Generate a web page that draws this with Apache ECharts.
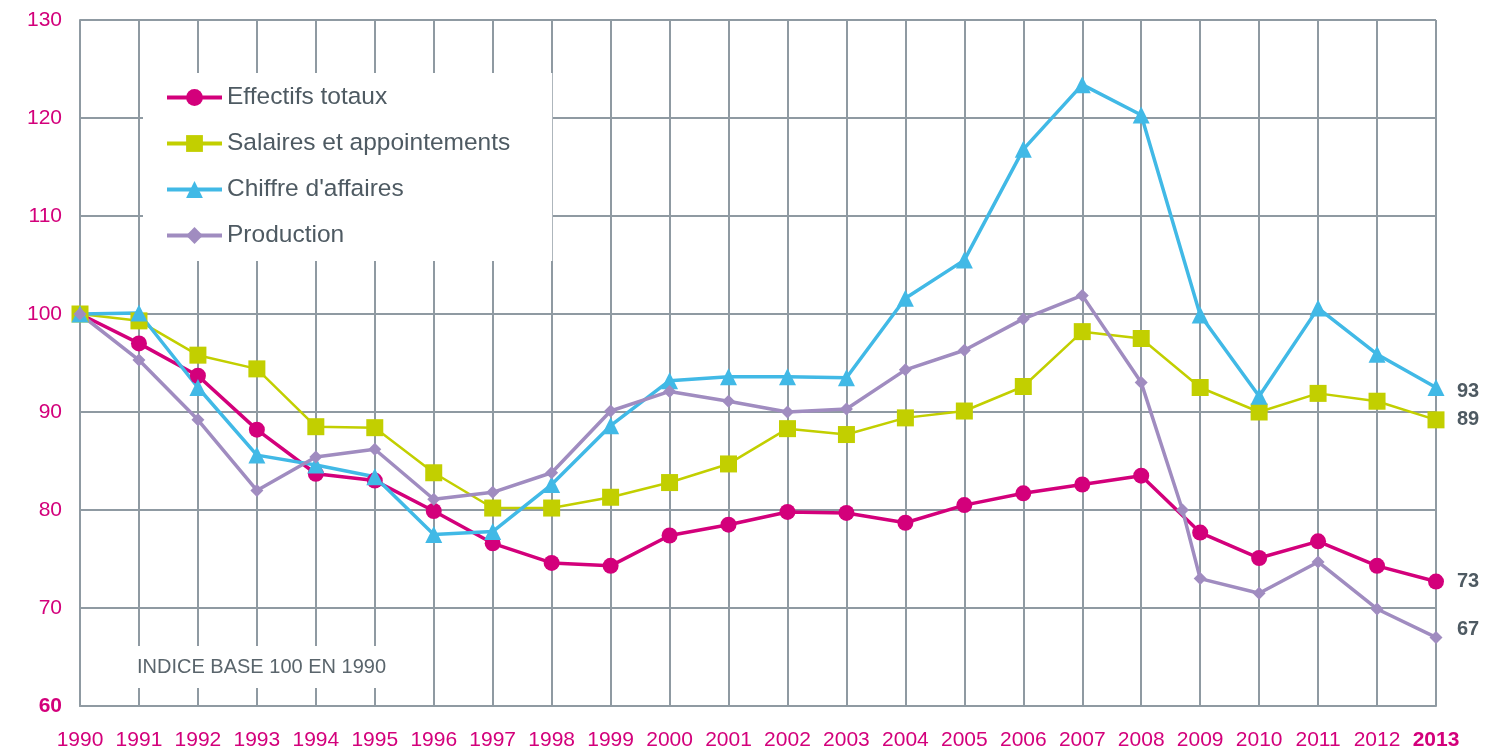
<!DOCTYPE html>
<html><head><meta charset="utf-8">
<script src="https://cdn.jsdelivr.net/npm/echarts@6/dist/echarts.min.js"></script>
<style>html,body{margin:0;padding:0;background:#fff}#c{width:1504px;height:751px}</style>
</head><body><div id="c"></div>
<script>
const years = [1990,1991,1992,1993,1994,1995,1996,1997,1998,1999,2000,2001,2002,2003,2004,2005,2006,2007,2008,2009,2010,2011,2012,2013];
const effectifs = [100,97.0,93.7,88.2,83.7,83.0,79.9,76.6,74.6,74.3,77.4,78.5,79.8,79.7,78.7,80.5,81.7,82.6,83.5,77.7,75.1,76.8,74.3,72.7];
const salaires = [100,99.3,95.8,94.4,88.5,88.4,83.8,80.2,80.2,81.3,82.8,84.7,88.3,87.7,89.4,90.1,92.6,98.2,97.5,92.5,90.0,91.9,91.1,89.2];
const chiffre = [100,100.1,92.5,85.6,84.6,83.4,77.5,77.8,82.6,88.6,93.2,93.6,93.6,93.5,101.6,105.5,116.8,123.4,120.3,99.9,91.6,100.6,95.9,92.5];
const production = [100,95.3,89.2,82.0,85.4,86.2,81.1,81.8,83.8,90.1,92.1,91.1,90.0,90.3,94.3,96.3,99.5,101.9,93.0,73.0,71.5,74.7,69.9,67.0];
// extra marker on the production line between 2008 and 2009
const productionExtra = [2008.7, 80];
const seriesNames = ['Effectifs totaux','Salaires et appointements',"Chiffre d'affaires",'Production'];
const endLabels = ['73','89','93','67'];
const yTicks = [60,70,80,90,100,110,120,130];
const note = 'INDICE BASE 100 EN 1990';

const pair = arr => years.map((y,i)=>[y,arr[i]]);
const prodData = pair(production);
prodData.splice(19,0,productionExtra);

const grid = '#8f9aa2';
const magenta = '#d3007b';
const font = 'Liberation Sans, Arial, sans-serif';
const chart = echarts.init(document.getElementById('c'));

function mk(name, data, color, symbol, size, lw, lab, off){
  return {name, type:'line', data, symbol, symbolSize:size,
    itemStyle:{color}, lineStyle:{color, width:lw},
    emphasis:{disabled:true}, animation:false,
    endLabel:{show:true, formatter:()=>lab, color:'#4e5a62', fontWeight:'bold',
      fontSize:20, fontFamily:font, distance:21, offset:off}};
}

chart.setOption({
  animation:false,
  textStyle:{fontFamily:font},
  grid:{left:80, right:68, top:20, bottom:44},
  legend:{
    data:seriesNames, orient:'vertical', left:143, top:73,
    backgroundColor:'#fff', padding:[12,42,13,22],
    itemWidth:55, itemHeight:21, itemGap:21,
    lineStyle:{width:4},
    textStyle:{fontSize:24.5, color:'#4e5a62', fontFamily:font, lineHeight:25}
  },
  xAxis:{type:'value', min:1990, max:2013, interval:1,
    axisLine:{show:true, lineStyle:{color:grid, width:2}},
    axisTick:{show:false},
    splitLine:{show:true, lineStyle:{color:grid, width:2}},
    axisLabel:{margin:24, fontSize:21, color:magenta, fontFamily:font,
      formatter:v=> v===2013 ? '{b|'+v+'}' : String(v),
      rich:{b:{fontWeight:'bold', fontSize:21, color:magenta, fontFamily:font}}}
  },
  yAxis:{type:'value', min:60, max:130, interval:10,
    axisLine:{show:true, lineStyle:{color:grid, width:2}},
    axisTick:{show:false},
    splitLine:{show:true, lineStyle:{color:grid, width:2}},
    axisLabel:{margin:18, fontSize:21, color:magenta, fontFamily:font,
      formatter:v=> v===60 ? '{b|'+v+'}' : String(v),
      rich:{b:{fontWeight:'bold', fontSize:21, color:magenta, fontFamily:font}}}
  },
  graphic:[{type:'text', left:131, top:646, z:10,
    style:{text:note, fontSize:20, fill:'#5a656c', fontFamily:font,
      backgroundColor:'#fff', padding:[11,6,11,6]}}],
  series:[
    mk(seriesNames[0], pair(effectifs), '#d3007b', 'circle', 16, 3.5, endLabels[0], [0,0]),
    mk(seriesNames[1], pair(salaires), '#c2cf00', 'rect', 17, 2.5, endLabels[1], [0,0]),
    mk(seriesNames[2], pair(chiffre), '#41b9e6', 'triangle', 17, 3.5, endLabels[2], [0,4]),
    mk(seriesNames[3], prodData, '#a08cc0', 'diamond', 13, 3.5, endLabels[3], [0,-8])
  ]
});
</script></body></html>
